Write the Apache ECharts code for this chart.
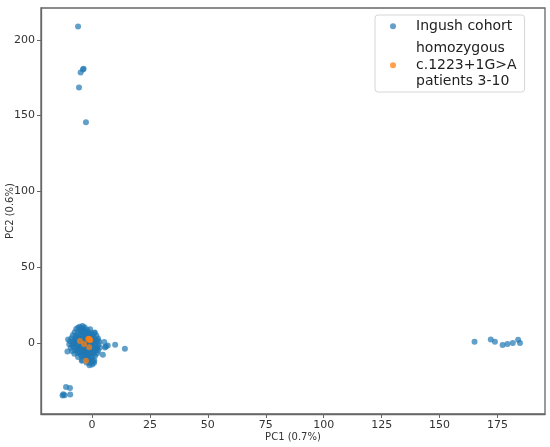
<!DOCTYPE html>
<html>
<head>
<meta charset="utf-8">
<script src="https://cdn.jsdelivr.net/npm/echarts@6/dist/echarts.min.js"></script>
<style>
html,body{margin:0;padding:0;background:#fff;}
#chart{width:550px;height:447px;}
</style>
</head>
<body>
<div id="chart"></div>
<script>
// PCA points: [PC1, PC2]
var cohortCore = [
	[-5.3,10.8],[-4.1,11.2],[-3.2,10.5],[-6.0,10.1],
	[-6.8,9.2],[-5.0,8.7],[-3.6,9.4],[-2.2,8.9],[-0.8,9.1],[-4.4,9.8],
	[-7.5,7.1],[-6.1,6.6],[-4.7,7.4],[-3.0,6.8],[-1.6,7.3],[-0.2,6.5],[1.2,7.0],
	[-8.3,5.2],[-6.9,4.7],[-5.4,5.5],[-4.0,4.8],[-2.5,5.3],[-1.1,4.6],[0.4,5.1],[1.9,4.9],
	[-8.8,3.1],[-7.4,2.6],[-6.0,3.4],[-4.6,2.8],[-3.1,3.3],[-1.7,2.7],[-0.3,3.2],[1.1,2.6],[2.6,3.0],
	[-9.4,1.2],[-8.0,0.6],[-6.6,1.4],[-5.2,0.8],[-3.7,1.3],[-2.3,0.5],[-0.9,1.1],[0.5,0.7],[1.9,1.3],[3.1,0.9],
	[-9.8,-0.8],[-8.5,-1.4],[-7.1,-0.6],[-5.7,-1.2],[-4.2,-0.7],[-2.8,-1.3],[-1.4,-0.9],[0.0,-1.5],[1.4,-0.8],[2.8,-1.2],
	[-9.2,-3.1],[-7.8,-2.6],[-6.4,-3.4],[-4.9,-2.8],[-3.5,-3.3],[-2.1,-2.7],[-0.6,-3.2],[0.8,-2.6],[2.2,-3.3],[3.3,-2.9],
	[-8.6,-5.2],[-7.2,-4.7],[-5.8,-5.5],[-4.3,-4.9],[-2.9,-5.4],[-1.5,-4.8],[0.0,-5.3],[1.4,-4.7],[2.7,-5.1],
	[-7.6,-7.1],[-6.2,-6.6],[-4.8,-7.4],[-3.3,-6.8],[-1.9,-7.3],[-0.5,-6.7],[0.9,-7.2],[2.2,-6.9],
	[-6.0,-9.2],[-4.5,-8.7],[-3.0,-9.4],[-1.6,-8.8],[-0.2,-9.1],[1.3,-8.6],
	[-4.2,-11.1],[-2.7,-10.6],[-1.3,-11.3],[0.2,-10.8],[1.0,-11.5],
	[-2.4,-12.9],[-0.9,-13.4],[0.3,-12.7],
	[-1.1,-14.6],[0.1,-14.2],
	[-3.0,2.0],[-2.0,0.0],[-1.0,-2.0],[-2.5,-1.0],[-1.5,1.5],[-3.5,-0.5],[-0.5,0.5],
	[-2.0,-3.5],[-4.0,1.0],[-1.0,3.5],[-3.8,-2.2],[-2.6,2.4],[-0.4,-0.6],[-1.8,-1.6],
	[-5.6,2.1],[-4.9,-0.3],[-6.3,-1.9],[-5.1,-4.0],[-3.9,-5.9],[-2.4,-6.1],[-0.9,-4.1],
	[0.6,-3.9],[1.7,-1.9],[0.9,1.8],[0.2,4.0],[-1.9,5.9],[-3.4,5.9],[-4.9,4.1],[-6.4,-4.3],
	[-7.0,1.9],[-2.2,-8.0],[-3.6,-8.1],[-0.8,-7.9],[-5.3,-6.2],[-1.3,-10.1],[-4.4,7.9],
	[-2.9,7.9],[-1.2,6.0],[0.6,-6.0],[-7.9,-0.2],[-6.9,3.6],[2.0,-4.2],[2.4,1.9],[-0.3,-12.0]
];
var cohortOuter = [
	[5.3,0.7],[5.6,-2.9],[6.0,-2.2],[6.8,-1.6],[10.0,-1.1],[14.2,-3.8],[1.0,6.6],
	[4.7,-7.7],[0.9,-13.0],[-4.4,-11.7],[-10.6,-5.6],[-10.3,2.4],
	[-11.2,-29.0],[-9.5,-29.6],[-12.4,-33.8],[-11.8,-34.5],[-9.4,-34.0],[-12.7,-34.6],
	[-6.0,208.8],[-3.9,180.5],[-3.6,180.9],[-4.9,178.5],[-5.6,168.6],[-2.6,145.6],
	[165.1,0.9],[172.1,2.4],[173.9,0.9],[177.2,-1.3],[179.3,-0.7],[181.6,0.0],[183.9,2.2],[184.7,0.0]
];
var patients = [
	[-5.2,1.3],[-1.6,2.6],[-1.0,2.3],[-1.3,2.9],[-0.8,1.9],[-3.4,-0.7],[-1.2,-2.7],[-2.6,-11.6]
];
var xTicks = [0,25,50,75,100,125,150,175];
var yTicks = [0,50,100,150,200];
var seriesNames = ['Ingush cohort','homozygous\nc.1223+1G>A\npatients 3-10'];

var font = 'DejaVu Sans';
var cohort = cohortCore.concat(cohortOuter);

var option = {
	animation: false,
	backgroundColor: '#fff',
	textStyle: { fontFamily: font },
	grid: {
		left: 41, right: 5, top: 8, bottom: 33,
		outerBoundsMode: 'none',
		containLabel: false,
		show: true,
		borderColor: '#666',
		borderWidth: 1.3
	},
	legend: {
		orient: 'vertical',
		left: 375,
		top: 15,
		padding: [3, 8, 2, 15],
		itemWidth: 36,
		itemHeight: 6,
		itemGap: 6,
		borderColor: '#d6d6d6',
		borderWidth: 1,
		borderRadius: 3,
		backgroundColor: '#fff',
		textStyle: { fontFamily: font, fontSize: 14, color: '#222', lineHeight: 16.5 },
		data: seriesNames
	},
	xAxis: {
		type: 'value',
		min: -22,
		max: 195.5,
		name: 'PC1 (0.7%)',
		nameLocation: 'middle',
		nameGap: 18,
		nameMoveOverlap: false,
		nameTextStyle: { fontFamily: font, fontSize: 10, color: '#333' },
		splitLine: { show: false },
		axisLine: { show: true, onZero: false, lineStyle: { color: '#666', width: 1.3 } },
		axisTick: { show: true, length: 4, lineStyle: { color: '#666' }, customValues: xTicks },
		axisLabel: { fontFamily: font, fontSize: 11, color: '#333', margin: 6, customValues: xTicks }
	},
	yAxis: {
		type: 'value',
		min: -46.8,
		max: 221,
		name: 'PC2 (0.6%)',
		nameLocation: 'middle',
		nameGap: 26,
		nameMoveOverlap: false,
		nameTextStyle: { fontFamily: font, fontSize: 10, color: '#333' },
		splitLine: { show: false },
		axisLine: { show: true, onZero: false, lineStyle: { color: '#666', width: 1.3 } },
		axisTick: { show: true, length: 4, lineStyle: { color: '#666' }, customValues: yTicks },
		axisLabel: { fontFamily: font, fontSize: 11, color: '#333', margin: 6, customValues: yTicks }
	},
	series: [
		{
			name: seriesNames[0],
			type: 'scatter',
			symbolSize: 6,
			itemStyle: { color: '#1f77b4', opacity: 0.7 },
			data: cohort
		},
		{
			name: seriesNames[1],
			type: 'scatter',
			symbolSize: 6,
			itemStyle: { color: '#ff7f0e', opacity: 0.75 },
			data: patients
		}
	]
};

var myChart = echarts.init(document.getElementById('chart'));
myChart.setOption(option);
</script>
</body>
</html>
